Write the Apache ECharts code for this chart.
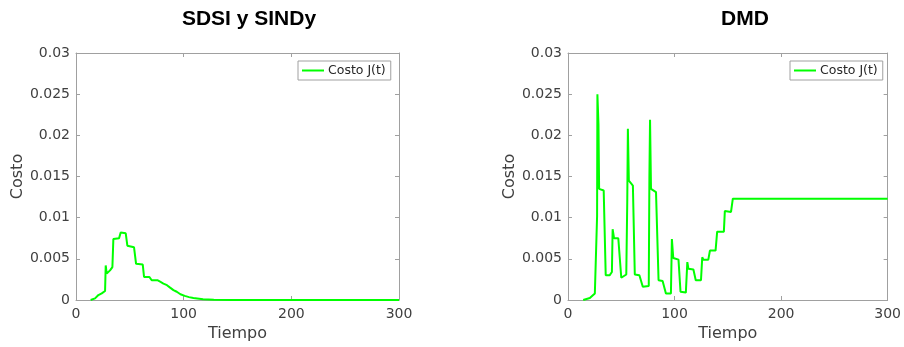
<!DOCTYPE html>
<html>
<head>
<meta charset="utf-8">
<script src="https://cdn.jsdelivr.net/npm/echarts@6/dist/echarts.min.js"></script>
<style>
  html, body { margin: 0; padding: 0; background: #fff; }
  #chart { width: 904px; height: 347px; }
</style>
</head>
<body>
<div id="chart"></div>
<script>
// ejes comunes
const xTicks = [0, 100, 200, 300];
const yTicks = [0, 0.005, 0.01, 0.015, 0.02, 0.025, 0.03];
const titles = ['SDSI y SINDy', 'DMD'];
const seriesName = 'Costo J(t)';

// SDSI y SINDy
const sdsiTime = [13.6, 17.7, 20.8, 23.9, 27, 27.6, 28.5, 31.6, 33.8, 34.7, 36.3, 40, 41.5, 46.2, 47.7, 53.9, 55.8, 62, 63.2, 68.2, 70.3, 75.6, 78.5, 81.2, 84.5, 87.4, 90.5, 93.6, 97, 101, 105, 109, 118, 128, 145, 300];
const sdsiCost = [0, 0.0002, 0.0006, 0.0008, 0.0011, 0.0042, 0.0032, 0.0036, 0.004, 0.0074, 0.0073, 0.0075, 0.0082, 0.0081, 0.0066, 0.0064, 0.0044, 0.0043, 0.0028, 0.0028, 0.0024, 0.0024, 0.0022, 0.002, 0.0018, 0.0015, 0.0012, 0.001, 0.0007, 0.0005, 0.00035, 0.00024, 0.0001, 0.00004, 0.00001, 0];

// DMD
const dmdTime = [14.3, 20.5, 25.2, 26.7, 27.3, 27.6, 28.6, 29.2, 33.5, 35.4, 39, 41.2, 41.9, 43.2, 47.2, 50, 54.7, 55.6, 56.2, 57.1, 60.9, 62.7, 67, 70.2, 75.8, 76.4, 77, 77.9, 82.6, 85, 88.8, 91.9, 96.6, 97.5, 98.8, 103.7, 105.6, 110.6, 112, 113, 117.7, 119.9, 124.8, 126, 127, 131.7, 133.2, 138.5, 140, 146.3, 147.2, 153, 154.7, 160, 300];
const dmdCost = [0, 0.00024, 0.0008, 0.001, 0.0102, 0.025, 0.0213, 0.0135, 0.0133, 0.003, 0.003, 0.0034, 0.0086, 0.0075, 0.0075, 0.0027, 0.0031, 0.0118, 0.0208, 0.0145, 0.0139, 0.0031, 0.003, 0.0016, 0.0017, 0.015, 0.0219, 0.0135, 0.0131, 0.0024, 0.0023, 0.0008, 0.0008, 0.0074, 0.0051, 0.0049, 0.001, 0.0009, 0.0046, 0.0038, 0.0037, 0.0024, 0.0024, 0.0052, 0.0049, 0.0049, 0.006, 0.006, 0.0083, 0.0083, 0.0108, 0.0107, 0.0123, 0.0123, 0.0123];

const FONT = 'DejaVu Sans';
const boxColor = '#a0a0a0';
const textColor = '#404040';
const lineGreen = '#00ff00';

const panels = [
  { left: 76, titleX: 244, legendX: 298 },
  { left: 568, titleX: 740, legendX: 790 }
];
const gridTop = 53, gridW = 323, gridH = 247;

const xMin = xTicks[0], xMax = xTicks[xTicks.length - 1];
const xStep = xTicks[1] - xTicks[0];
const yMin = yTicks[0], yMax = yTicks[yTicks.length - 1];
const yStep = yTicks[1] - yTicks[0];

function pairs(t, v) {
  return t.map((x, i) => [x, v[i]]);
}

let myChart = echarts.init(document.getElementById('chart'), null, { renderer: 'canvas' });

const option = {
  animation: false,
  backgroundColor: '#fff',
  title: panels.map((p, i) => ({
    text: titles[i],
    left: p.titleX,
    top: 4,
    textAlign: 'center',
    textStyle: { fontFamily: 'Liberation Sans', fontWeight: 'bold', fontSize: 21, color: '#000' }
  })),
  grid: panels.map(p => ({
    left: p.left, top: gridTop, width: gridW, height: gridH,
    show: false
  })),
  legend: panels.map(p => ({
    data: [seriesName],
    left: p.legendX,
    top: 61,
    orient: 'vertical',
    icon: 'rect',
    itemWidth: 22,
    itemHeight: 2,
    itemGap: 4,
    padding: [3, 5, 3, 4],
    borderColor: boxColor,
    borderWidth: 1,
    backgroundColor: '#fff',
    textStyle: { fontFamily: FONT, fontSize: 12.5, color: '#262626', padding: [0, 0, 0, -1] }
  })),
  xAxis: [],
  yAxis: [],
  series: []
};

panels.forEach((p, i) => {
  // eje inferior con etiquetas + eje superior solo con marcas (caja estilo MATLAB)
  option.xAxis.push({
    gridIndex: i, type: 'value', position: 'bottom',
    min: xMin, max: xMax, interval: xStep,
    name: 'Tiempo', nameLocation: 'middle', nameGap: 24,
    nameTextStyle: { fontFamily: FONT, fontSize: 16, color: textColor },
    axisLine: { show: true, onZero: false, lineStyle: { color: boxColor, width: 1 } },
    axisTick: { show: true, inside: true, length: 4, lineStyle: { color: boxColor } },
    axisLabel: { fontFamily: FONT, fontSize: 14, color: textColor, margin: 7 },
    splitLine: { show: false }
  });
  option.xAxis.push({
    gridIndex: i, type: 'value', position: 'top',
    min: xMin, max: xMax, interval: xStep,
    axisLine: { show: true, onZero: false, lineStyle: { color: boxColor, width: 1 } },
    axisTick: { show: true, inside: true, length: 4, lineStyle: { color: boxColor } },
    axisLabel: { show: false },
    splitLine: { show: false }
  });
  option.yAxis.push({
    gridIndex: i, type: 'value', position: 'left',
    min: yMin, max: yMax, interval: yStep,
    name: 'Costo', nameLocation: 'middle', nameGap: 50,
    nameTextStyle: { fontFamily: FONT, fontSize: 16, color: textColor },
    axisLine: { show: true, onZero: false, lineStyle: { color: boxColor, width: 1 } },
    axisTick: { show: true, inside: true, length: 4, lineStyle: { color: boxColor } },
    axisLabel: { fontFamily: FONT, fontSize: 14, color: textColor, margin: 6,
      formatter: v => String(+v.toFixed(3)) },
    splitLine: { show: false }
  });
  option.yAxis.push({
    gridIndex: i, type: 'value', position: 'right',
    min: yMin, max: yMax, interval: yStep,
    axisLine: { show: true, onZero: false, lineStyle: { color: boxColor, width: 1 } },
    axisTick: { show: true, inside: true, length: 4, lineStyle: { color: boxColor } },
    axisLabel: { show: false },
    splitLine: { show: false }
  });
});

option.series = [
  {
    name: seriesName, type: 'line',
    xAxisIndex: 0, yAxisIndex: 0,
    data: pairs(sdsiTime, sdsiCost),
    showSymbol: false, symbol: 'none', z: 1,
    color: lineGreen,
    lineStyle: { width: 2, color: lineGreen }
  },
  {
    name: seriesName, type: 'line',
    xAxisIndex: 2, yAxisIndex: 2,
    data: pairs(dmdTime, dmdCost),
    showSymbol: false, symbol: 'none', z: 1,
    color: lineGreen,
    lineStyle: { width: 2, color: lineGreen }
  }
];

option && myChart.setOption(option);
</script>
</body>
</html>
